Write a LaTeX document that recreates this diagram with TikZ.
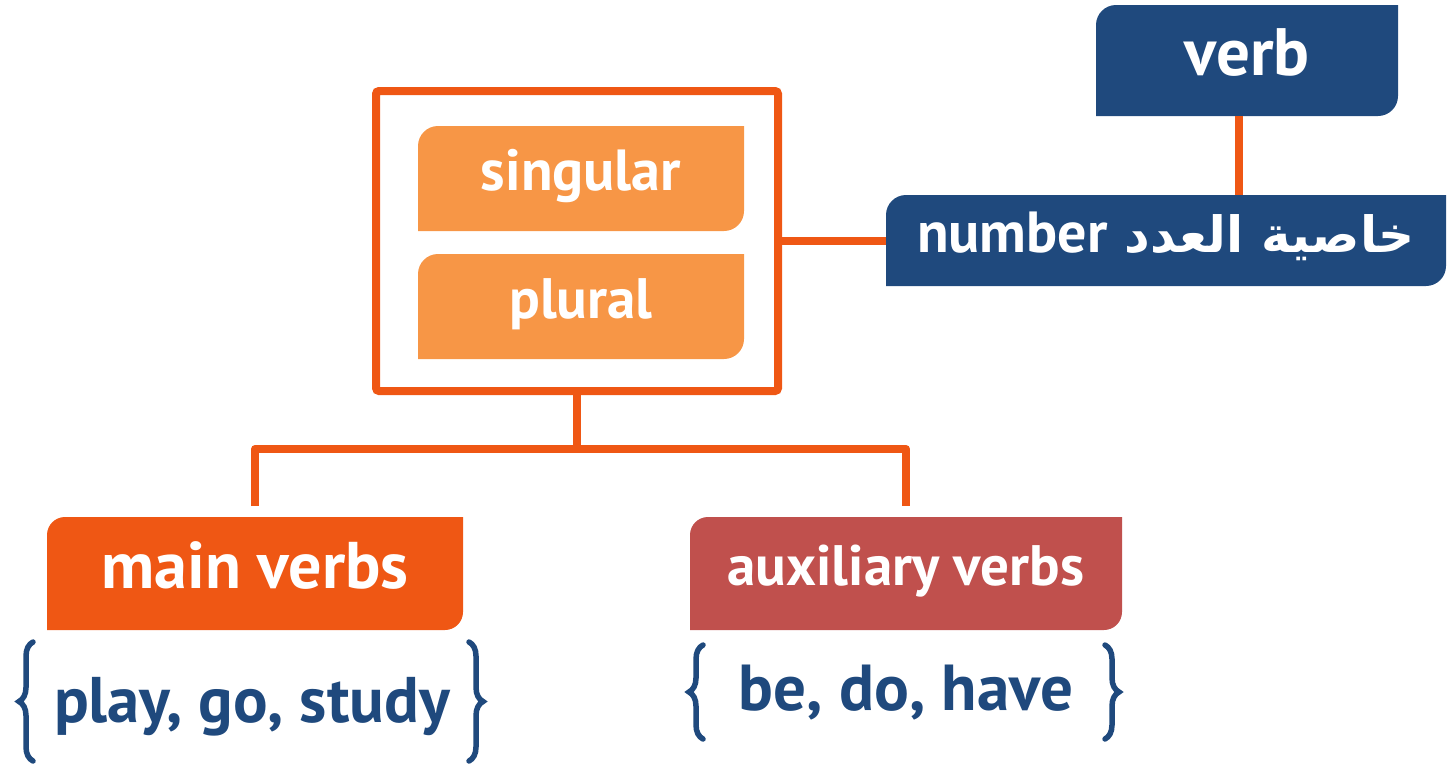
\documentclass[tikz,border=0pt]{standalone}
\usepackage{fontspec}
\setmainfont{PT Sans}
\newfontfamily\arabicfont[Script=Arabic]{DejaVu Sans}
\TeXXeTstate=1
\usetikzlibrary{decorations.pathreplacing}
\definecolor{navy}{HTML}{1F497D}
\definecolor{lightorange}{HTML}{F79646}
\definecolor{deeporange}{HTML}{EF5714}
\definecolor{brick}{HTML}{C0504D}
\newcommand\tlbrfill[3]{% node, colour, radius
  \fill[#2] (#1.south west) -- ([yshift=-#3]#1.north west)
    arc[start angle=180,end angle=90,radius=#3] -- (#1.north east)
    -- ([yshift=#3]#1.south east)
    arc[start angle=0,end angle=-90,radius=#3] -- cycle;}
\begin{document}
\begin{tikzpicture}[x=1pt,y=-1pt,
  boxtext/.style={inner sep=0pt, outer sep=0pt, text=white, font=\bfseries},
  bigbase/.style={text height=40pt, text depth=11pt},
  smallbase/.style={text height=35pt, text depth=12pt},
  conn/.style={draw=deeporange, line width=8pt, line join=round},
  bracestyle/.style={draw=navy, line width=5.5pt, line cap=round, decorate,
    decoration={brace, amplitude=14pt}},
  listtext/.style={inner sep=0pt, text=navy, font=\bfseries, anchor=base}]
\useasboundingbox (0,0) rectangle (1455,766);

% verb
\node[boxtext, bigbase, minimum width=302pt, minimum height=111pt] (verb) at (1247,60.5) {};
% number
\node[boxtext, smallbase, minimum width=560pt, minimum height=91pt] (num) at (1166,240.5) {};
% frame
\node[draw=deeporange, line width=8pt, rounded corners=3pt, inner sep=0pt,
  outer sep=0pt, minimum width=402pt, minimum height=300pt] (frame) at (577,241) {};
% singular / plural
\node[boxtext, smallbase, minimum width=326pt, minimum height=105pt] (sing) at (581,178.5) {};
\node[boxtext, smallbase, minimum width=326pt, minimum height=105pt] (plur) at (581,306.5) {};
% main / auxiliary
\node[boxtext, bigbase, minimum width=416pt, minimum height=113pt] (mv) at (255,573.5) {};
\node[boxtext, smallbase, minimum width=432pt, minimum height=113pt] (aux) at (906,573.5) {};

% backgrounds
\tlbrfill{verb}{navy}{20pt}
\tlbrfill{num}{navy}{20pt}
\tlbrfill{sing}{lightorange}{20pt}
\tlbrfill{plur}{lightorange}{20pt}
\tlbrfill{mv}{deeporange}{18pt}
\tlbrfill{aux}{brick}{18pt}

% texts on top
\node[boxtext, bigbase, font=\bfseries\fontsize{67}{67}\selectfont] at (verb) {verb};
\node[boxtext, smallbase, font=\bfseries\fontsize{58}{58}\selectfont] at (num)
  {number\hspace{0.3em}{\arabicfont\bfseries\fontsize{50}{50}\selectfont\beginR خاصية العدد\endR}};
\node[boxtext, smallbase, font=\bfseries\fontsize{58}{58}\selectfont] at (sing) {singular};
\node[boxtext, smallbase, font=\bfseries\fontsize{57}{57}\selectfont] at (plur) {plural};
\node[boxtext, bigbase, font=\bfseries\fontsize{66}{66}\selectfont] at (mv) {main verbs};
\node[boxtext, smallbase, font=\bfseries\fontsize{57}{57}\selectfont] at (aux) {auxiliary verbs};

% lists
\node[listtext, font=\bfseries\fontsize{64.5}{64.5}\selectfont] (pgs) at (252,722) {play, go, study};
\node[listtext, font=\bfseries\fontsize{65}{65}\selectfont] (bdh) at (906,710) {be, do, have};

% braces
\draw[bracestyle] (33,761) -- (33,642);
\draw[bracestyle] (469,642) -- (469,761);
\draw[bracestyle] (703,739) -- (703,645);
\draw[bracestyle] (1105,645) -- (1105,739);

% connectors
\coordinate (bj) at (frame.south |- 0,449);
\draw[conn] ([xshift=-8pt]verb.south) -- ([xshift=-8pt]verb.south |- num.north);
\draw[conn] (frame.east) -- (frame.east -| num.west);
\draw[conn] (frame.south) -- (bj);
\draw[conn] ([yshift=11pt]mv.north) |- (bj) -| ([yshift=11pt]aux.north);
\end{tikzpicture}
\end{document}
